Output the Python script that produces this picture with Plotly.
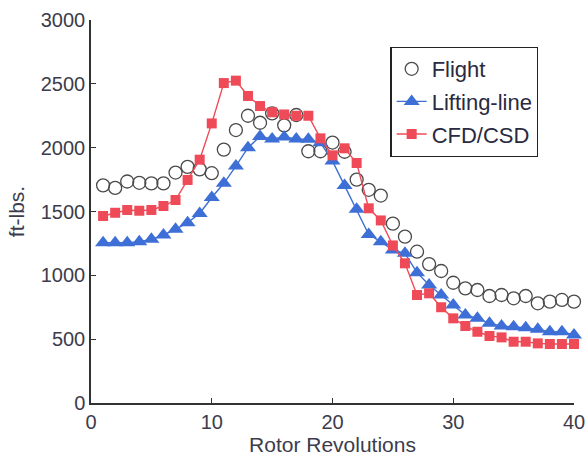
import plotly.graph_objects as go

revs = list(range(1, 41))

flight = [1705, 1685, 1735, 1725, 1720, 1720, 1805, 1850, 1830, 1800,
          1985, 2138, 2250, 2195, 2269, 2175, 2256, 1972, 1972, 2040,
          1968, 1750, 1670, 1625, 1405, 1303, 1185, 1088, 1034, 942,
          898, 885, 838, 846, 820, 838, 781, 794, 807, 794]

lifting_line = [1256, 1256, 1256, 1264, 1282, 1316, 1360, 1412, 1485, 1610,
                1721, 1856, 2000, 2088, 2068, 2083, 2068, 2065, 2039, 1895,
                1704, 1517, 1320, 1264, 1198, 1172, 1021, 924, 846, 768,
                689, 663, 624, 603, 598, 590, 577, 558, 558, 533]

cfd_csd = [1465, 1490, 1512, 1506, 1512, 1543, 1590, 1747, 1906, 2190,
           2506, 2525, 2405, 2326, 2277, 2260, 2250, 2250, 2073, 1940,
           1995, 1880, 1525, 1430, 1234, 1094, 846, 859, 750, 663,
           603, 558, 525, 514, 480, 480, 467, 462, 462, 462]

x_ticks = [0, 10, 20, 30, 40]
y_ticks = [0, 500, 1000, 1500, 2000, 2500, 3000]

RED = "#ef4a57"
BLUE = "#3d6fd6"
FONT = "Liberation Sans, Arial, sans-serif"
TEXT = "#3c3c4c"

fig = go.Figure()

fig.add_trace(go.Scatter(
    x=revs, y=flight, name="Flight", mode="markers", legendgroup="a",
    cliponaxis=False,
    marker=dict(symbol="circle-open", size=13, color="#4a4a4a",
                line=dict(width=1.3, color="#4a4a4a")),
))
fig.add_trace(go.Scatter(
    x=revs, y=lifting_line, name="Lifting-line", mode="lines+markers",
    legendgroup="b", cliponaxis=False,
    line=dict(color=BLUE, width=1.4),
    marker=dict(symbol="triangle-up", size=14, color=BLUE),
))
fig.add_trace(go.Scatter(
    x=revs, y=cfd_csd, name="CFD/CSD", mode="lines+markers",
    legendgroup="c", cliponaxis=False,
    line=dict(color=RED, width=1.4),
    marker=dict(symbol="square", size=10, color=RED),
))

axis_common = dict(
    showline=True, linecolor="#333333", linewidth=1.5,
    ticks="inside", ticklen=5, tickcolor="#333333", tickwidth=1.2,
    showgrid=False, zeroline=False, mirror=False, automargin=False,
    tickfont=dict(family=FONT, size=20, color=TEXT),
)

fig.update_layout(
    width=588, height=460,
    margin=dict(l=91, r=14, t=20, b=57),
    paper_bgcolor="white", plot_bgcolor="white",
    font=dict(family=FONT, size=20, color=TEXT),
    showlegend=True,
    legend=dict(
        x=0.62, y=0.93, xanchor="left", yanchor="top",
        bordercolor="#222222", borderwidth=1.2, bgcolor="white",
        font=dict(family=FONT, size=22, color="#2a2a40"),
        tracegroupgap=1, itemwidth=30,
    ),
    xaxis=dict(
        range=[0, 40], tickvals=x_ticks,
        title=dict(text="Rotor Revolutions", standoff=0,
                   font=dict(family=FONT, size=21, color=TEXT)),
        **axis_common,
    ),
    yaxis=dict(
        range=[0, 3000], tickvals=y_ticks,
        title=dict(text="ft-lbs.", standoff=10,
                   font=dict(family=FONT, size=21, color=TEXT)),
        **axis_common,
    ),
)

fig.write_html("out.html")
